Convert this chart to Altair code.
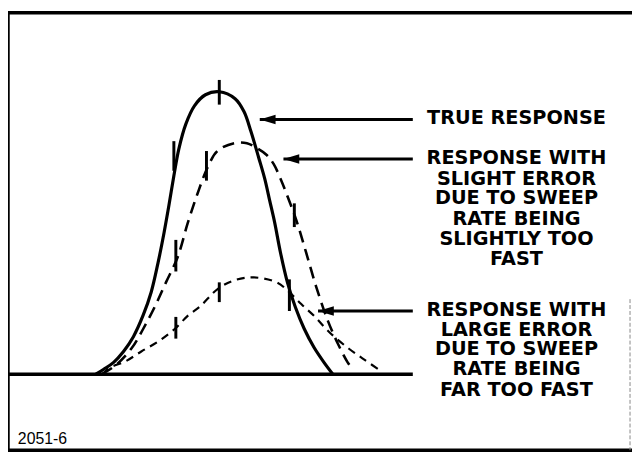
import altair as alt
import pandas as pd

# ---- curve readings (x: px from left border, y: height above baseline) ----
true_x = [89, 97, 107, 117, 127, 137, 145, 152, 158, 163, 168, 173, 180, 189, 200, 214,
          230, 239, 246, 254, 260, 265, 270, 276, 283, 291, 300, 310, 320, 329]
true_y = [0, 5, 12, 23, 38, 60, 83, 113, 143, 171, 201, 228, 253, 272, 283, 286,
          279, 266, 246, 219, 198, 176, 154, 123, 93, 68, 46, 27, 12, 0]

slight_x = [95, 109, 125, 137, 149, 160, 172, 182, 192, 202, 212, 229, 242, 252, 262, 269, 276, 282,
            292, 302, 312, 324, 335, 344, 350]
slight_y = [0, 9, 26, 46, 69, 93, 119, 153, 183, 209, 226, 234, 234, 229, 222, 213, 198, 183,
            156, 123, 89, 54, 29, 12, 4]

large_x = [96, 102, 119, 135, 152, 169, 182, 195, 212, 229, 249, 272, 285, 297, 310, 325, 345, 362, 378]
large_y = [0, 6, 13, 23, 33, 46, 59, 69, 86, 95, 98, 93, 83, 71, 59, 43, 26, 14, 3]

# hand-drawn hatch marks on the curves
hatch_x = [214, 168, 201, 170, 290, 214, 170, 285]
hatch_y1 = [298, 236, 226, 136, 173, 93, 58, 96]
hatch_y2 = [273, 206, 196, 104, 149, 73, 36, 64]

# arrows (tip -> tail)
arrow_tip_x = [255, 279, 314]
arrow_tail_x = [410, 410, 410]
arrow_y = [258, 218, 64]

# labels
label_text = ["TRUE RESPONSE",
              "RESPONSE WITH", "SLIGHT ERROR", "DUE TO SWEEP", "RATE BEING", "SLIGHTLY TOO", "FAST",
              "RESPONSE WITH", "LARGE ERROR", "DUE TO SWEEP", "RATE BEING", "FAR TOO FAST"]
label_y = [253, 212.5, 192, 172, 151.5, 131, 110.5, 59, 39, 19, -1, -22]
label_x = [515] * len(label_text)

fig_id = "2051-6"

# frame and baseline segments
seg_x = [0, 0, 0, 0]
seg_x2 = [632, 0, 632, 410]
seg_y = [366, 366, -77, 0]
seg_y2 = [366, -77, -77, 0]

xs = alt.Scale(domain=[0, 632], nice=False, zero=False)
ys = alt.Scale(domain=[-79, 368], nice=False, zero=False)


def X(f):
    return alt.X(f, type="quantitative", scale=xs, axis=None)


def Y(f):
    return alt.Y(f, type="quantitative", scale=ys, axis=None)


true_df = pd.DataFrame({"x": true_x, "y": true_y})
slight_df = pd.DataFrame({"x": slight_x, "y": slight_y})
large_df = pd.DataFrame({"x": large_x, "y": large_y})
hatch_df = pd.DataFrame({"x": hatch_x, "y1": hatch_y1, "y2": hatch_y2})
arrow_df = pd.DataFrame({"x": arrow_tip_x, "x2": arrow_tail_x, "y": arrow_y})
head_df = pd.DataFrame({"x": [v + 8 for v in arrow_tip_x], "y": arrow_y})
label_df = pd.DataFrame({"x": label_x, "y": label_y, "t": label_text})
seg_df = pd.DataFrame({"x": seg_x, "x2": seg_x2, "y": seg_y, "y2": seg_y2})

frame = alt.Chart(seg_df).mark_rule(color="black", strokeWidth=3.5).encode(
    x=X("x"), x2="x2", y=Y("y"), y2="y2")

right_edge = alt.Chart(pd.DataFrame({"x": [630], "y": [76], "y2": [-77]})).mark_rule(
    color="#888888", strokeWidth=1, strokeDash=[4, 2]).encode(x=X("x"), y=Y("y"), y2="y2")

true_line = alt.Chart(true_df).mark_line(color="black", strokeWidth=3.2, interpolate="catmull-rom").encode(
    x=X("x"), y=Y("y"))
slight_line = alt.Chart(slight_df).mark_line(color="black", strokeWidth=2.6, strokeDash=[12, 7],
                                              interpolate="catmull-rom").encode(x=X("x"), y=Y("y"))
large_line = alt.Chart(large_df).mark_line(color="black", strokeWidth=2.2, strokeDash=[8, 6],
                                            interpolate="catmull-rom").encode(x=X("x"), y=Y("y"))

hatch = alt.Chart(hatch_df).mark_rule(color="black", strokeWidth=3).encode(
    x=X("x"), y=Y("y1"), y2="y2")

arrows = alt.Chart(arrow_df).mark_rule(color="black", strokeWidth=3).encode(
    x=X("x"), x2="x2", y=Y("y"))
heads = alt.Chart(head_df).mark_point(
    shape="M -1 0 L 1 -0.6 L 1 0.6 Z", size=256, filled=True, color="black", opacity=1
).encode(x=X("x"), y=Y("y"))

labels = alt.Chart(label_df).mark_text(
    font="DejaVu Sans", fontWeight="bold", fontSize=19.5, align="center", baseline="alphabetic",
    color="black"
).encode(x=X("x"), y=Y("y"), text="t:N")

fig_label = alt.Chart(pd.DataFrame({"x": [10], "y": [-71], "t": [fig_id]})).mark_text(
    font="Liberation Sans", fontSize=16, align="left", baseline="alphabetic", color="black"
).encode(x=X("x"), y=Y("y"), text="t:N")

chart = alt.layer(
    frame, right_edge, large_line, slight_line, true_line, hatch, arrows, heads, labels, fig_label
).properties(
    width=632, height=447, padding=0, autosize="none", background="white"
).configure_view(stroke=None)

chart.save("out.html", embed_options={"renderer": "svg", "actions": False})
